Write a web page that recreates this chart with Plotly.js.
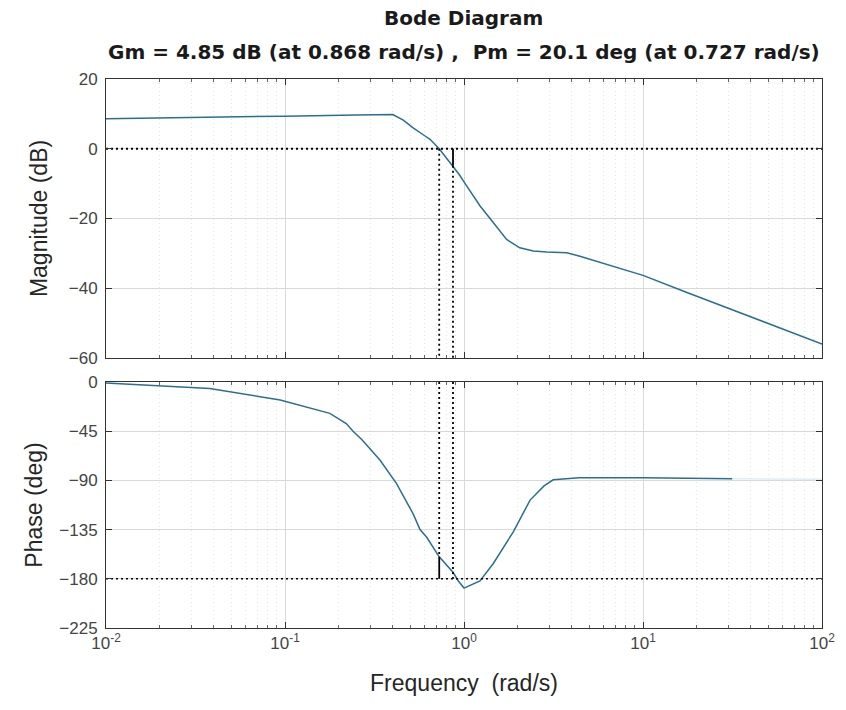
<!DOCTYPE html>
<html>
<head>
<meta charset="utf-8">
<script src="https://cdn.plot.ly/plotly-3.0.1.min.js"></script>
<style>html,body{margin:0;padding:0;background:#fff;}#chart{width:846px;height:710px;}</style>
</head>
<body>
<div id="chart"></div>
<script>
// ---- data ----
const freqMag = [0.01, 0.03, 0.1, 0.25, 0.4, 0.458, 0.52, 0.6, 0.646, 0.727, 0.8, 0.868, 0.94, 1.0, 1.08, 1.23, 1.46, 1.73, 2.05, 2.44, 2.9, 3.75, 4.44, 5.5, 10, 17.6, 41, 100];
const magDb   = [8.6, 8.9, 9.35, 9.7, 9.8, 8.2, 6.0, 3.8, 2.7, 0, -2.8, -4.85, -7.4, -9.5, -12.0, -16.4, -21.2, -26.0, -28.4, -29.3, -29.6, -29.8, -30.8, -32.2, -36.3, -41.2, -48.4, -56.0];

const freqPhase = [0.01, 0.038, 0.094, 0.178, 0.22, 0.24, 0.27, 0.34, 0.42, 0.52, 0.568, 0.619, 0.727, 0.868, 0.93, 1.0, 1.228, 1.458, 1.886, 2.34, 2.8, 3.15, 4.4, 10, 31.6];
const phaseDeg  = [-1, -6, -16.5, -28.7, -38, -45, -53, -71.6, -93, -120.6, -135, -142, -159.9, -174, -182, -188.5, -182, -166, -137, -108, -95, -89.5, -87.5, -87.5, -88.5];
const freqPhaseTail  = [31.6, 100];
const phaseDegTail   = [-88.5, -89];

const gainMarginDb = 4.85, phaseCrossFreq = 0.868;
const phaseMarginDeg = 20.1, gainCrossFreq = 0.727;

const xTickVals = [0.01, 0.1, 1, 10, 100];
const xTickText = ['10<sup>-2</sup>', '10<sup>-1</sup>', '10<sup>0</sup>', '10<sup>1</sup>', '10<sup>2</sup>'];
const magTicks = [-60, -40, -20, 0, 20];
const phaseTicks = [-225, -180, -135, -90, -45, 0];

const titleText = 'Bode Diagram';
const subTitleText = 'Gm = ' + gainMarginDb + ' dB (at ' + phaseCrossFreq + ' rad/s) ,  Pm = ' + phaseMarginDeg + ' deg (at ' + gainCrossFreq + ' rad/s)';

// minor tick positions for log axis
const minorVals = [];
for (let e = -2; e < 2; e++) for (let m = 2; m <= 9; m++) minorVals.push(m * Math.pow(10, e));

const lineColor = '#2a6f8f';
const FONT = 'Liberation Sans, Arial, sans-serif';
const TFONT = 'DejaVu Sans, Liberation Sans, sans-serif';
const magMin = -60, magMax = 20, phMin = -225, phMax = 0;
const dotted = '2px,3px';

const traces = [
  {x: freqMag, y: magDb, xaxis: 'x', yaxis: 'y', mode: 'lines', line: {color: lineColor, width: 1.5}, hoverinfo: 'skip'},
  {x: freqPhase, y: phaseDeg, xaxis: 'x2', yaxis: 'y2', mode: 'lines', line: {color: lineColor, width: 1.5}, hoverinfo: 'skip'},
  {x: freqPhaseTail, y: phaseDegTail, xaxis: 'x2', yaxis: 'y2', mode: 'lines', line: {color: '#dbf0f7', width: 1.5}, hoverinfo: 'skip'},
  // 0 dB line
  {x: [0.01, 100], y: [0, 0], xaxis: 'x', yaxis: 'y', mode: 'lines', line: {color: '#000', width: 1.8, dash: dotted}, hoverinfo: 'skip'},
  // -180 line
  {x: [0.01, 100], y: [-180, -180], xaxis: 'x2', yaxis: 'y2', mode: 'lines', line: {color: '#000', width: 1.5, dash: dotted}, hoverinfo: 'skip'},
  // magnitude plot verticals
  {x: [gainCrossFreq, gainCrossFreq], y: [0, magMin], xaxis: 'x', yaxis: 'y', mode: 'lines', line: {color: '#000', width: 1.8, dash: dotted}, hoverinfo: 'skip'},
  {x: [phaseCrossFreq, phaseCrossFreq], y: [-gainMarginDb, magMin], xaxis: 'x', yaxis: 'y', mode: 'lines', line: {color: '#000', width: 1.8, dash: dotted}, hoverinfo: 'skip'},
  {x: [phaseCrossFreq, phaseCrossFreq], y: [0, -gainMarginDb], xaxis: 'x', yaxis: 'y', mode: 'lines', line: {color: '#000', width: 1.8}, hoverinfo: 'skip'},
  // phase plot verticals
  {x: [gainCrossFreq, gainCrossFreq], y: [phMax, -180 + phaseMarginDeg], xaxis: 'x2', yaxis: 'y2', mode: 'lines', line: {color: '#000', width: 1.8, dash: dotted}, hoverinfo: 'skip'},
  {x: [gainCrossFreq, gainCrossFreq], y: [-180 + phaseMarginDeg, -180], xaxis: 'x2', yaxis: 'y2', mode: 'lines', line: {color: '#000', width: 1.8}, hoverinfo: 'skip'},
  {x: [phaseCrossFreq, phaseCrossFreq], y: [phMax, -180], xaxis: 'x2', yaxis: 'y2', mode: 'lines', line: {color: '#000', width: 1.8, dash: dotted}, hoverinfo: 'skip'}
];

const xCommon = {
  type: 'log', range: [-2, 2], tickmode: 'array', tickvals: xTickVals, ticktext: xTickText,
  showline: true, linecolor: '#333', linewidth: 1, mirror: 'ticks',
  ticks: 'inside', ticklen: 6, tickcolor: '#333',
  showgrid: true, gridcolor: '#d9d9d9', gridwidth: 1, zeroline: false,
  minor: {tickmode: 'array', tickvals: minorVals, ticks: 'inside', ticklen: 3, tickcolor: '#666', showgrid: true, gridcolor: '#e4e4e4', griddash: '1px,3px', gridwidth: 1},
  tickfont: {family: FONT, size: 17, color: '#444'}
};
const yCommon = {
  showline: true, linecolor: '#333', linewidth: 1, mirror: 'ticks',
  ticks: 'inside', ticklen: 6, tickcolor: '#333',
  showgrid: true, gridcolor: '#d9d9d9', gridwidth: 1, zeroline: false,
  tickfont: {family: FONT, size: 17, color: '#444'}, ticklabelstandoff: 4,
  automargin: false
};

const layout = {
  width: 846, height: 710,
  margin: {l: 106, r: 24, t: 79, b: 82},
  paper_bgcolor: '#fff', plot_bgcolor: '#fff',
  showlegend: false,
  font: {family: FONT, color: '#262626'},
  title: {text: '<b>' + titleText + '</b>', x: 0.548, xanchor: 'center', y: 1 - 18 / 710, yanchor: 'middle', font: {family: TFONT, size: 20, color: '#1a1a1a'}},
  annotations: [
    {text: '<b>' + subTitleText + '</b>', xref: 'paper', yref: 'paper', x: 0.5, y: 1 + 27 / 549, xanchor: 'center', yanchor: 'middle', showarrow: false, font: {family: TFONT, size: 20, color: '#1a1a1a'}}
  ],
  xaxis: Object.assign({}, xCommon, {anchor: 'y', showticklabels: false, matches: 'x2'}),
  xaxis2: Object.assign({}, xCommon, {anchor: 'y2', title: {text: 'Frequency  (rad/s)', font: {family: FONT, size: 23, color: '#262626'}, standoff: 22}}),
  yaxis: Object.assign({}, yCommon, {domain: [270 / 549, 1], range: [magMin, magMax], tickmode: 'array', tickvals: magTicks,
    title: {text: 'Magnitude (dB)', font: {family: FONT, size: 23, color: '#262626'}, standoff: 14}}),
  yaxis2: Object.assign({}, yCommon, {domain: [0, 246 / 549], range: [phMin, phMax], tickmode: 'array', tickvals: phaseTicks,
    title: {text: 'Phase (deg)', font: {family: FONT, size: 23, color: '#262626'}, standoff: 10}})
};

Plotly.newPlot('chart', traces, layout, {staticPlot: true, displayModeBar: false});
</script>
</body>
</html>
